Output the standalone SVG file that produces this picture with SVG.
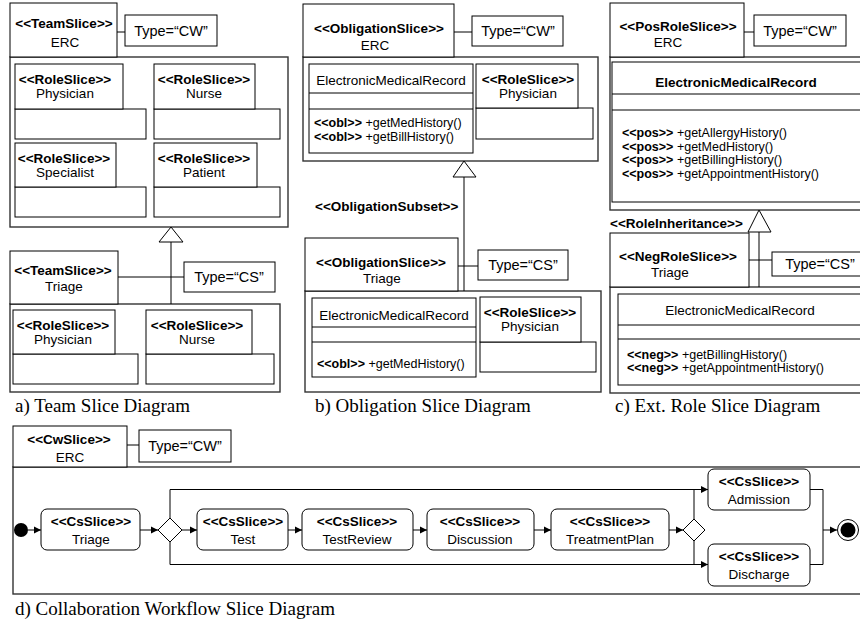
<svg xmlns="http://www.w3.org/2000/svg" width="860" height="625" viewBox="0 0 860 625">
<style>
.bx{fill:#fff;stroke:#000;stroke-width:1}
.fr{fill:#fff;stroke:#333;stroke-width:1.4}
.c{fill:none;stroke:#000;stroke-width:1}
.tri{fill:#fff;stroke:#000;stroke-width:1}
text{font-family:"Liberation Sans",Arial,sans-serif;fill:#000}
.st{font-size:13.5px;font-weight:bold;text-anchor:middle}
.nm{font-size:13.5px;text-anchor:middle}
.lb{font-size:13.5px;font-weight:bold}
.ty{font-size:14.5px;text-anchor:middle}
.m{font-size:12.5px}
.m tspan.k{font-weight:bold}
.cap{font-family:"Liberation Serif","Times New Roman",serif;font-size:19px}
</style>
<defs>
<marker id="ah" markerWidth="8" markerHeight="8" refX="7" refY="4" orient="auto" markerUnits="userSpaceOnUse">
<path d="M0,0.5 L7,4 L0,7.5 Z" fill="#000"/>
</marker>
</defs>

<!-- Panel a -->
<g id="a-erc">
<rect class="fr" x="10" y="57" width="278" height="170"/>
<rect class="bx" x="10" y="3" width="107" height="54"/>
<text class="st" x="64" y="28">&lt;&lt;TeamSlice&gt;&gt;</text>
<text class="nm" x="65" y="47">ERC</text>
</g>
<g id="a-type-cw"><rect class="bx" x="125" y="15" width="92" height="31"/><text class="ty" x="171" y="36">Type=“CW”</text></g>
<g id="a-physician"><rect class="bx" x="15" y="109" width="131" height="30"/><rect class="bx" x="15" y="64" width="108" height="45"/><text class="st" x="65" y="84">&lt;&lt;RoleSlice&gt;&gt;</text><text class="nm" x="65" y="98">Physician</text></g>
<g id="a-nurse"><rect class="bx" x="154" y="109" width="126" height="30"/><rect class="bx" x="154" y="64" width="101" height="45"/><text class="st" x="204" y="84">&lt;&lt;RoleSlice&gt;&gt;</text><text class="nm" x="204" y="98">Nurse</text></g>
<g id="a-specialist"><rect class="bx" x="15" y="187" width="131" height="30"/><rect class="bx" x="15" y="143" width="101" height="44"/><text class="st" x="64" y="163">&lt;&lt;RoleSlice&gt;&gt;</text><text class="nm" x="65" y="177">Specialist</text></g>
<g id="a-patient"><rect class="bx" x="154" y="187" width="126" height="30"/><rect class="bx" x="154" y="143" width="103" height="44"/><text class="st" x="204" y="163">&lt;&lt;RoleSlice&gt;&gt;</text><text class="nm" x="204" y="177">Patient</text></g>

<g id="a-triage">
<rect class="fr" x="10" y="304" width="270" height="88"/>
<rect class="bx" x="10" y="251" width="108" height="53"/>
<text class="st" x="63" y="275">&lt;&lt;TeamSlice&gt;&gt;</text>
<text class="nm" x="64" y="291">Triage</text>
</g>
<g id="a-type-cs"><rect class="bx" x="184" y="262" width="91" height="30"/><text class="ty" x="229" y="282">Type=“CS”</text></g>
<g id="a-physician2"><rect class="bx" x="13" y="354" width="125" height="30"/><rect class="bx" x="13" y="310" width="102" height="44"/><text class="st" x="63" y="330">&lt;&lt;RoleSlice&gt;&gt;</text><text class="nm" x="63" y="344">Physician</text></g>
<g id="a-nurse2"><rect class="bx" x="146" y="354" width="128" height="30"/><rect class="bx" x="146" y="310" width="106" height="44"/><text class="st" x="197" y="330">&lt;&lt;RoleSlice&gt;&gt;</text><text class="nm" x="197" y="344">Nurse</text></g>
<text class="cap" x="15" y="412">a) Team Slice Diagram</text>

<!-- Panel b -->
<g id="b-erc">
<rect class="fr" x="303" y="57" width="295" height="104"/>
<rect class="bx" x="303" y="4" width="151" height="53"/>
<text class="st" x="379" y="33">&lt;&lt;ObligationSlice&gt;&gt;</text>
<text class="nm" x="375" y="50">ERC</text>
</g>
<g id="b-type-cw"><rect class="bx" x="472" y="16" width="91" height="30"/><text class="ty" x="518" y="36">Type=“CW”</text></g>
<g id="b-emr">
<rect class="bx" x="309" y="64" width="164" height="89"/>
<line class="c" x1="309" y1="93" x2="473" y2="93"/><line class="c" x1="309" y1="109" x2="473" y2="109"/>
<text class="nm" x="391" y="85">ElectronicMedicalRecord</text>
<text class="m" x="314" y="127"><tspan class="k">&lt;&lt;obl&gt;&gt;</tspan> +getMedHistory()</text>
<text class="m" x="314" y="141"><tspan class="k">&lt;&lt;obl&gt;&gt;</tspan> +getBillHistory()</text>
</g>
<g id="b-physician"><rect class="bx" x="476" y="108" width="117" height="31"/><rect class="bx" x="476" y="64" width="102" height="44"/><text class="st" x="528" y="84">&lt;&lt;RoleSlice&gt;&gt;</text><text class="nm" x="528" y="98">Physician</text></g>

<text class="lb" x="315" y="211">&lt;&lt;ObligationSubset&gt;&gt;</text>
<g id="b-triage">
<rect class="fr" x="305" y="291" width="296" height="101"/>
<rect class="bx" x="305" y="238" width="153" height="53"/>
<text class="st" x="381" y="267">&lt;&lt;ObligationSlice&gt;&gt;</text>
<text class="nm" x="382" y="283">Triage</text>
</g>
<g id="b-type-cs"><rect class="bx" x="478" y="250" width="90" height="30"/><text class="ty" x="523" y="270">Type=“CS”</text></g>
<g id="b-emr2">
<rect class="bx" x="312" y="298" width="164" height="79"/>
<line class="c" x1="312" y1="327" x2="476" y2="327"/><line class="c" x1="312" y1="342" x2="476" y2="342"/>
<text class="nm" x="394" y="320">ElectronicMedicalRecord</text>
<text class="m" x="317" y="368"><tspan class="k">&lt;&lt;obl&gt;&gt;</tspan> +getMedHistory()</text>
</g>
<g id="b-physician2"><rect class="bx" x="480" y="342" width="116" height="30"/><rect class="bx" x="480" y="297" width="101" height="45"/><text class="st" x="530" y="317">&lt;&lt;RoleSlice&gt;&gt;</text><text class="nm" x="530" y="331">Physician</text></g>
<text class="cap" x="315" y="412">b) Obligation Slice Diagram</text>

<!-- Panel c -->
<g id="c-erc">
<rect class="fr" x="610" y="57" width="270" height="153"/>
<rect class="bx" x="610" y="3" width="134" height="54"/>
<text class="st" x="678" y="31">&lt;&lt;PosRoleSlice&gt;&gt;</text>
<text class="nm" x="668" y="47">ERC</text>
</g>
<g id="c-type-cw"><rect class="bx" x="754" y="15" width="92" height="31"/><text class="ty" x="800" y="36">Type=“CW”</text></g>
<g id="c-emr">
<rect class="bx" x="612" y="62" width="268" height="140"/>
<line class="c" x1="612" y1="94" x2="880" y2="94"/><line class="c" x1="612" y1="110" x2="880" y2="110"/>
<text class="st" x="736" y="87">ElectronicMedicalRecord</text>
<text class="m" x="622" y="137"><tspan class="k">&lt;&lt;pos&gt;&gt;</tspan> +getAllergyHistory()</text>
<text class="m" x="622" y="150.5"><tspan class="k">&lt;&lt;pos&gt;&gt;</tspan> +getMedHistory()</text>
<text class="m" x="622" y="164"><tspan class="k">&lt;&lt;pos&gt;&gt;</tspan> +getBillingHistory()</text>
<text class="m" x="622" y="177.5"><tspan class="k">&lt;&lt;pos&gt;&gt;</tspan> +getAppointmentHistory()</text>
</g>
<text class="lb" x="610" y="228">&lt;&lt;RoleInheritance&gt;&gt;</text>
<g id="c-triage">
<rect class="fr" x="610" y="287" width="270" height="106"/>
<rect class="bx" x="610" y="233" width="139" height="54"/>
<text class="st" x="678" y="261">&lt;&lt;NegRoleSlice&gt;&gt;</text>
<text class="nm" x="670" y="277">Triage</text>
</g>
<g id="c-type-cs"><rect class="bx" x="772" y="252" width="94" height="24"/><text class="ty" x="820" y="269">Type=“CS”</text></g>
<g id="c-emr2">
<rect class="bx" x="618" y="294" width="262" height="91"/>
<line class="c" x1="618" y1="325" x2="880" y2="325"/><line class="c" x1="618" y1="339" x2="880" y2="339"/>
<text class="nm" x="740" y="315">ElectronicMedicalRecord</text>
<text class="m" x="627" y="358.5"><tspan class="k">&lt;&lt;neg&gt;&gt;</tspan> +getBillingHistory()</text>
<text class="m" x="627" y="372"><tspan class="k">&lt;&lt;neg&gt;&gt;</tspan> +getAppointmentHistory()</text>
</g>
<text class="cap" x="615" y="412">c) Ext. Role Slice Diagram</text>

<!-- Panel d -->
<g id="d-erc">
<rect class="fr" x="13" y="467" width="860" height="127"/>
<rect class="bx" x="13" y="426" width="114" height="41"/>
<text class="st" x="69" y="444">&lt;&lt;CwSlice&gt;&gt;</text>
<text class="nm" x="70" y="462">ERC</text>
</g>
<g id="d-type-cw"><rect class="bx" x="139" y="430" width="92" height="32"/><text class="ty" x="185" y="451">Type=“CW”</text></g>
<g id="d-initial"><circle cx="21" cy="530" r="7" fill="#000"/></g>
<g id="d-triage"><rect class="bx" x="41" y="509" width="99" height="41" rx="6"/><text class="st" x="91" y="526">&lt;&lt;CsSlice&gt;&gt;</text><text class="nm" x="91" y="544">Triage</text></g>
<g id="d-decision1"><polygon class="bx" points="158,530 170,518 182,530 170,542"/></g>
<g id="d-test"><rect class="bx" x="197" y="509" width="91" height="41" rx="6"/><text class="st" x="243" y="526">&lt;&lt;CsSlice&gt;&gt;</text><text class="nm" x="243" y="544">Test</text></g>
<g id="d-testreview"><rect class="bx" x="302" y="509" width="111" height="41" rx="6"/><text class="st" x="357" y="526">&lt;&lt;CsSlice&gt;&gt;</text><text class="nm" x="357" y="544">TestReview</text></g>
<g id="d-discussion"><rect class="bx" x="427" y="509" width="107" height="41" rx="6"/><text class="st" x="480" y="526">&lt;&lt;CsSlice&gt;&gt;</text><text class="nm" x="480" y="544">Discussion</text></g>
<g id="d-treatmentplan"><rect class="bx" x="551" y="509" width="118" height="41" rx="6"/><text class="st" x="610" y="526">&lt;&lt;CsSlice&gt;&gt;</text><text class="nm" x="610" y="544">TreatmentPlan</text></g>
<g id="d-decision2"><polygon class="bx" points="683,530 694,519 705,530 694,541"/></g>
<g id="d-admission"><rect class="bx" x="708" y="469" width="102" height="41" rx="6"/><text class="st" x="759" y="486">&lt;&lt;CsSlice&gt;&gt;</text><text class="nm" x="759" y="504">Admission</text></g>
<g id="d-discharge"><rect class="bx" x="708" y="544" width="102" height="42" rx="6"/><text class="st" x="759" y="561">&lt;&lt;CsSlice&gt;&gt;</text><text class="nm" x="759" y="579">Discharge</text></g>
<g id="d-final"><circle cx="848" cy="530" r="10.5" fill="#fff" stroke="#000" stroke-width="1"/><circle cx="848" cy="530" r="7.5" fill="#000"/></g>
<text class="cap" x="15" y="615">d) Collaboration Workflow Slice Diagram</text>

<g id="connectors">
<!-- panel a -->
<line class="c" x1="117" y1="32" x2="125" y2="32"/>
<line class="c" x1="118" y1="277" x2="184" y2="277"/>
<line class="c" x1="171" y1="242" x2="171" y2="304"/>
<polygon class="tri" points="171,227 159,242 183,242"/>
<!-- panel b -->
<line class="c" x1="454" y1="32" x2="472" y2="32"/>
<line class="c" x1="458" y1="266" x2="478" y2="266"/>
<line class="c" x1="464" y1="177" x2="464" y2="291"/>
<polygon class="tri" points="464,161 453,177 476,177"/>
<!-- panel c -->
<line class="c" x1="744" y1="32" x2="754" y2="32"/>
<line class="c" x1="749" y1="260" x2="772" y2="260"/>
<line class="c" x1="759" y1="232" x2="759" y2="287"/>
<polygon class="tri" points="759,210 748,232 771,232"/>
<!-- panel d -->
<line class="c" x1="127" y1="445" x2="139" y2="445"/>
<line class="c" x1="28" y1="530" x2="41" y2="530" marker-end="url(#ah)"/>
<line class="c" x1="140" y1="530" x2="158" y2="530" marker-end="url(#ah)"/>
<line class="c" x1="182" y1="530" x2="197" y2="530" marker-end="url(#ah)"/>
<line class="c" x1="288" y1="530" x2="302" y2="530" marker-end="url(#ah)"/>
<line class="c" x1="413" y1="530" x2="427" y2="530" marker-end="url(#ah)"/>
<line class="c" x1="534" y1="530" x2="551" y2="530" marker-end="url(#ah)"/>
<line class="c" x1="669" y1="530" x2="683" y2="530" marker-end="url(#ah)"/>
<path class="c" d="M170,518 V489.5 H708" marker-end="url(#ah)"/>
<path class="c" d="M170,542 V564.5 H708" marker-end="url(#ah)"/>
<path class="c" d="M694,489.5 V519 M694,541 V564.5"/>
<path class="c" d="M810,489.5 H823 V564.5 H810"/>
<line class="c" x1="823" y1="530" x2="837" y2="530" marker-end="url(#ah)"/>
</g>
</svg>
